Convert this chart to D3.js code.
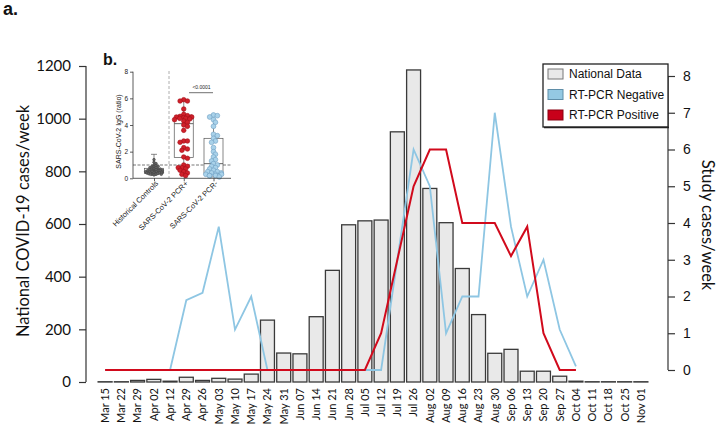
<!DOCTYPE html>
<html><head><meta charset="utf-8">
<script src="https://cdn.jsdelivr.net/npm/d3@7"></script>
<style>body{margin:0;background:#fff}svg{display:block}</style>
</head><body>
<script>
const categories=["Mar 15","Mar 22","Mar 29","Apr 02","Apr 12","Apr 29","Apr 26","May 03","May 10","May 17","May 24","May 31","Jun 07","Jun 14","Jun 21","Jun 28","Jul 05","Jul 12","Jul 19","Jul 26","Aug 02","Aug 09","Aug 16","Aug 23","Aug 30","Sep 06","Sep 13","Sep 20","Sep 27","Oct 04","Oct 11","Oct 18","Oct 25","Nov 01"];
const nationalData=[1,1,6,10,3,18,6,14,11,30,235,110,107,248,424,597,612,615,950,1185,735,605,431,256,109,124,41,41,22,3,1,1,1,1];
const rtpcrNegative=[0,0,0,0,0,1.9,2.1,3.9,1.1,2.0,0,0,0,0,0,0,0,0,3,6,5,1,2,2,7,3.9,2,3,1.1,0.1];
const rtpcrPositive=[0,0,0,0,0,0,0,0,0,0,0,0,0,0,0,0,0,1,3,5,6,6,4,4,4,3.1,3.9,1,0,0];
const leftTicks=[0,200,400,600,800,1000,1200];
const rightTicks=[0,1,2,3,4,5,6,7,8];
const legendLabels=["National Data","RT-PCR Negative","RT-PCR Positive"];
// inset (b.)
const insetGroups=["Historical Controls","SARS-CoV-2 PCR+","SARS-CoV-2 PCR-"];
const insetTicks=[0,2,4,6,8];
const historicalValues=[1.4,1.2,1.1,1.0,0.95,0.9,0.9,0.85,0.8,0.8,0.75,0.7,0.7,0.7,0.65,0.65,0.6,0.6,0.6,0.55,0.55,0.55,0.5,0.5,0.5,0.5,0.5,0.45,0.45,0.45,0.45,0.4,0.4,0.4,0.4,0.4,0.35,0.35,0.35,0.3,0.3,0.3,0.3,0.25];
const pcrPosValues=[5.9,5.8,5.8,5.2,4.8,4.7,4.65,4.6,4.6,4.6,4.55,4.5,4.5,4.45,4.4,4.3,4.2,4.0,3.9,3.6,2.8,2.8,2.7,2.3,2.2,2.1,1.6,1.5,1.0,0.9,0.8,0.8,0.7,0.6,0.5,0.4,0.3,0.2];
const pcrNegValues=[4.75,4.7,4.6,4.4,4.2,3.9,3.3,3.2,3.0,2.8,2.7,2.3,2.0,1.8,1.6,1.4,1.3,1.1,1.0,0.9,0.8,0.7,0.6,0.5,0.5,0.4,0.4,0.3,0.3,0.3,0.2,0.2,0.2,0.1];
const boxStats=[[0.25,0.35,0.5,0.75,1.8],[0.2,1.55,4.1,4.5,5.9],[0.1,0.35,1.1,3.0,4.75]];
const pValueText="<0.0001";

const W=720,H=424;
const svg=d3.select("body").append("svg").attr("width",W).attr("height",H);
const lato="Lato, 'Open Sans', sans-serif", arial="'Liberation Sans', Arial, sans-serif";

const x=d3.scaleBand().domain(categories).range([97,649]).paddingInner(0.14).paddingOuter(0.07);
const yL=d3.scaleLinear().domain([0,1200]).range([382,66]);
const yR=d3.scaleLinear().domain([0,8]).range([370,76]);

// bars
svg.append("g").selectAll("rect").data(nationalData).join("rect")
 .attr("x",(d,i)=>x(categories[i])).attr("width",x.bandwidth())
 .attr("y",d=>yL(d)).attr("height",d=>yL(0)-yL(d))
 .attr("fill","#e9e9e9").attr("stroke","#3a3a3a").attr("stroke-width",1.3);

// lines
const cx=i=>x(categories[i])+x.bandwidth()/2;
const line=d3.line().x((d,i)=>cx(i)).y(d=>yR(d));
svg.append("path").datum(rtpcrNegative).attr("d",line).attr("fill","none").attr("stroke","#8ec6e3").attr("stroke-width",1.8);
svg.append("path").datum(rtpcrPositive).attr("d",line).attr("fill","none").attr("stroke","#d10a1c").attr("stroke-width",2);

// left axis
const gL=svg.append("g").attr("transform","translate(86,0)")
 .call(d3.axisLeft(yL).tickValues(leftTicks).tickSize(7).tickPadding(8).tickFormat(d3.format("d")));
gL.select(".domain").attr("d","M0,66V382").attr("stroke","#333").attr("stroke-width",1.2);
gL.selectAll(".tick line").attr("stroke","#333").attr("stroke-width",1.2);
gL.selectAll("text").attr("font-family",lato).attr("font-size",15).attr("fill","#111");

// right axis
const gR=svg.append("g").attr("transform","translate(668,0)")
 .call(d3.axisRight(yR).tickValues(rightTicks).tickSize(7).tickPadding(8));
gR.select(".domain").attr("d","M0,76V370").attr("stroke","#333").attr("stroke-width",1.2);
gR.selectAll(".tick line").attr("stroke","#333").attr("stroke-width",1.2);
gR.selectAll("text").attr("font-family",arial).attr("font-size",14).attr("fill","#111");

// x labels
const gX=svg.append("g").attr("transform","translate(0,384)")
 .call(d3.axisBottom(x).tickSize(0).tickPadding(4));
gX.select(".domain").remove();
gX.selectAll("text").attr("font-family",lato).attr("font-size",11).attr("fill","#111")
 .attr("text-anchor","end").attr("transform","rotate(-90)").attr("x",-4).attr("y",0).attr("dy","0.35em");

// titles
svg.append("text").attr("transform","translate(29,221) rotate(-90)").attr("text-anchor","middle")
 .attr("font-family",lato).attr("font-size",16.5).attr("fill","#111").text("National COVID-19 cases/week");
svg.append("text").attr("transform","translate(702,225) rotate(90)").attr("text-anchor","middle")
 .attr("font-family",lato).attr("font-size",16.5).attr("fill","#111").text("Study cases/week");
svg.append("text").attr("x",3).attr("y",15).attr("font-family",arial).attr("font-weight","bold").attr("font-size",18).attr("fill","#111").text("a.");

// legend
const lg=svg.append("g");
lg.append("rect").attr("x",543).attr("y",64).attr("width",125).attr("height",63).attr("fill","#fff").attr("stroke","#222").attr("stroke-width",1.3);
lg.append("line").attr("x1",544).attr("x2",669).attr("y1",127.5).attr("y2",127.5).attr("stroke","#222").attr("stroke-width",1.5);
const legColors=[["#e9e9e9","#777"],["#94c9e3","#5f8ea8"],["#c8001a","#8a0010"]];
legendLabels.forEach((t,i)=>{
 const yy=74+i*20.5;
 lg.append("rect").attr("x",548).attr("y",yy-5).attr("width",15).attr("height",10).attr("fill",legColors[i][0]).attr("stroke",legColors[i][1]).attr("stroke-width",1);
 lg.append("text").attr("x",569).attr("y",yy).attr("dy","0.35em").attr("font-family",arial).attr("font-size",12).attr("fill","#111").text(t);
});

// inset panel b.
const ins=svg.append("g");
ins.append("text").attr("x",103).attr("y",65).attr("font-family",arial).attr("font-weight","bold").attr("font-size",16).attr("fill","#111").text("b.");
const xi=d3.scalePoint().domain(insetGroups).range([154,213.5]);
const yi=d3.scaleLinear().domain([0,8]).range([178.3,71.7]);
// reference lines
ins.append("line").attr("x1",169).attr("x2",169).attr("y1",71).attr("y2",178).attr("stroke","#999").attr("stroke-width",0.8).attr("stroke-dasharray","3,2");
ins.append("line").attr("x1",133).attr("x2",232).attr("y1",yi(1)).attr("y2",yi(1)).attr("stroke","#bbb").attr("stroke-width",2).attr("stroke-dasharray","3,1.5");
// boxes
const bw=19;
boxStats.forEach((s,i)=>{
 const c=xi(insetGroups[i]);
 ins.append("line").attr("x1",c).attr("x2",c).attr("y1",yi(s[0])).attr("y2",yi(s[4])).attr("stroke","#555").attr("stroke-width",0.7);
 [s[0],s[4]].forEach(v=>ins.append("line").attr("x1",c-3).attr("x2",c+3).attr("y1",yi(v)).attr("y2",yi(v)).attr("stroke","#555").attr("stroke-width",0.7));
 ins.append("rect").attr("x",c-bw/2).attr("y",yi(s[3])).attr("width",bw).attr("height",yi(s[1])-yi(s[3])).attr("fill","#fff").attr("stroke","#555").attr("stroke-width",0.7);
 ins.append("line").attr("x1",c-bw/2).attr("x2",c+bw/2).attr("y1",yi(s[2])).attr("y2",yi(s[2])).attr("stroke","#555").attr("stroke-width",0.9);
});
// beeswarm dots (compact, allowed to overlap a little)
function swarm(vals,c,r,maxOff){
 const placed=[];
 vals.forEach(v=>{
  const y=yi(v);let k=0,px=c,best=null;
  while(k<30){
   const off=(k===0?0:Math.ceil(k/2)*(k%2?1:-1))*r*0.8;
   px=c+off;
   if(Math.abs(off)>maxOff){break;}
   if(placed.every(p=>Math.hypot(p[0]-px,p[1]-y)>=r*1.35)){best=px;break;}
   k++;
  }
  if(best===null){best=c+((placed.length%2)?1:-1)*maxOff*((placed.length%5)/5);}
  placed.push([best,y]);
 });
 return placed;
}
const dotStyles=[[historicalValues,1.3,"#666","#444",9],[pcrPosValues,2.3,"#d0202a","#a30d17",10],[pcrNegValues,2.4,"#a9d2ea","#6f9fc2",10]];
dotStyles.forEach((ds,i)=>{
 const pts=swarm(ds[0],xi(insetGroups[i]),ds[1],ds[4]);
 ins.append("g").selectAll("circle").data(pts).join("circle")
  .attr("cx",d=>d[0]).attr("cy",d=>d[1]).attr("r",ds[1]).attr("fill",ds[2]).attr("stroke",ds[3]).attr("stroke-width",0.6);
});
// inset axes
const gyi=ins.append("g").attr("transform","translate(133,0)").call(d3.axisLeft(yi).tickValues(insetTicks).tickSize(3).tickPadding(2));
gyi.select(".domain").attr("d","M0,71.7V178.3").attr("stroke","#333").attr("stroke-width",0.8);
gyi.selectAll(".tick line").attr("stroke","#333").attr("stroke-width",0.8);
gyi.selectAll("text").attr("font-family",arial).attr("font-size",6.5).attr("fill","#222");
const gxi=ins.append("g").attr("transform","translate(0,178.3)").call(d3.axisBottom(xi).tickSize(3).tickPadding(3));
gxi.select(".domain").attr("d","M133,0H231").attr("stroke","#333").attr("stroke-width",0.8);
gxi.selectAll(".tick line").attr("stroke","#333").attr("stroke-width",0.8);
gxi.selectAll("text").attr("font-family",arial).attr("font-size",7.5).attr("fill","#222")
 .attr("text-anchor","end").attr("transform","rotate(-45)").attr("x",-1).attr("y",7).attr("dy","0");
ins.append("text").attr("transform","translate(121,131.5) rotate(-90)").attr("text-anchor","middle")
 .attr("font-family",arial).attr("font-size",7).attr("fill","#222").text("SARS-CoV-2 IgG (ratio)");
ins.append("line").attr("x1",189).attr("x2",213).attr("y1",92.7).attr("y2",92.7).attr("stroke","#333").attr("stroke-width",0.7);
ins.append("text").attr("x",201.5).attr("y",89).attr("text-anchor","middle").attr("font-family",arial).attr("font-size",5).attr("fill","#222").text(pValueText);
</script>
</body></html>
